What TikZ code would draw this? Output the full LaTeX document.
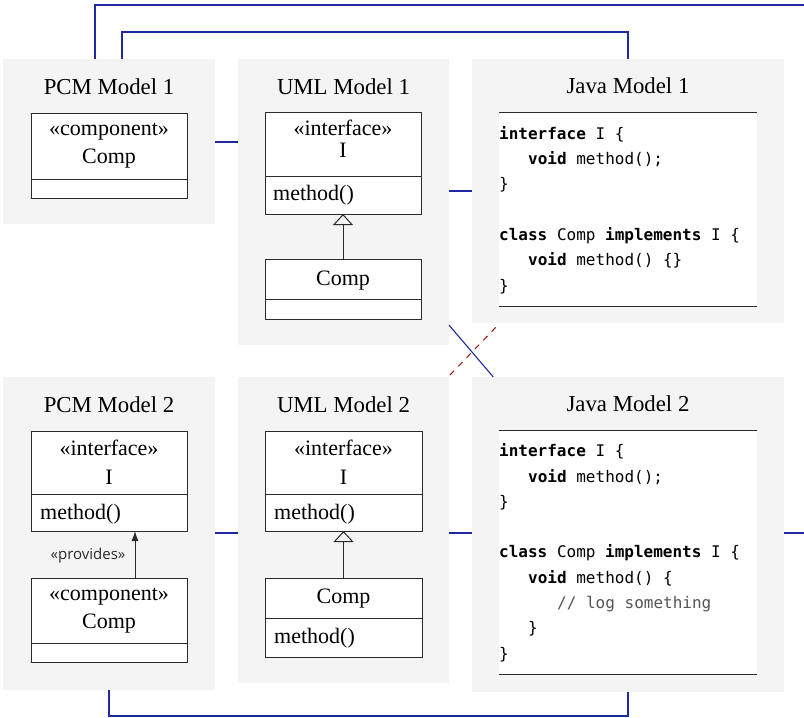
\documentclass[tikz,border=0pt]{standalone}
\usepackage{fontspec}
\setmainfont{Liberation Serif}
\newfontfamily\codefont{DejaVu Sans Mono}
\newfontfamily\labelfont{Open Sans}
\usetikzlibrary{arrows.meta,calc}
\definecolor{panelgray}{HTML}{F4F4F4}
\definecolor{linkblue}{RGB}{30,40,160}
\definecolor{linkred}{RGB}{165,30,30}
\definecolor{boxline}{HTML}{2A2A2A}
\definecolor{codegray}{HTML}{555555}
\begin{document}
\begin{tikzpicture}[x=1pt,y=-1pt,
  panel/.style={fill=panelgray,inner sep=0pt,outer sep=0pt},
  title/.style={font=\fontsize{22.8}{26}\selectfont,inner sep=0pt,anchor=base},
  cbox/.style={draw=boxline,fill=white,line width=1pt,inner sep=0pt,outer sep=0pt},
  ctext/.style={font=\fontsize{22}{26}\selectfont,inner sep=0pt,anchor=base},
  cleft/.style={font=\fontsize{22}{26}\selectfont,inner sep=0pt,anchor=base west},
  codebox/.style={fill=white,inner sep=0pt,outer sep=0pt},
  code/.style={font=\codefont\fontsize{16}{19}\selectfont,inner sep=0pt,anchor=base west},
  rule/.style={draw=boxline,line width=1pt},
  divider/.style={draw=boxline,line width=1pt},
  link/.style={color=linkblue,line width=1.1pt},
  trace/.style={color=linkred,line width=1.1pt,dash pattern=on 6pt off 6pt},
  genarrow/.style={draw=boxline,line width=1pt,-{Triangle[open,width=20pt,length=11pt]}},
  provarrow/.style={draw=boxline,line width=1pt,-{Latex[width=7pt,length=10pt]}},
  provlabel/.style={font=\labelfont\fontsize{15}{17}\selectfont,inner sep=0pt,anchor=base,text=boxline}
]
\useasboundingbox (0,0) rectangle (804,718);
\clip (0,0) rectangle (804,718);

% ---------- panels ----------
\node[panel,minimum width=212pt,minimum height=165pt] (pcm1) at (109,141.5) {};
\node[panel,minimum width=211pt,minimum height=286pt] (uml1) at (343.5,202) {};
\node[panel,minimum width=312pt,minimum height=264pt] (java1) at (628,191) {};
\node[panel,minimum width=212pt,minimum height=313pt] (pcm2) at (109,533.5) {};
\node[panel,minimum width=211pt,minimum height=306pt] (uml2) at (343.5,530) {};
\node[panel,minimum width=312pt,minimum height=315pt] (java2) at (628,534.5) {};

\node[title] (pcm1t) at (109,94) {PCM Model 1};
\node[title] (uml1t) at (343.5,94) {UML Model 1};
\node[title] (java1t) at (628,93) {Java Model 1};
\node[title] (pcm2t) at (109,412) {PCM Model 2};
\node[title] (uml2t) at (343.5,412) {UML Model 2};
\node[title] (java2t) at (628,411) {Java Model 2};

% ---------- PCM Model 1 ----------
\node[cbox,minimum width=156pt,minimum height=85pt] (p1comp) at (109,155.5) {};
\draw[divider] (p1comp.west |- 0,179) -- (p1comp.east |- 0,179);
\node[ctext] (p1st) at (109,135) {«component»};
\node[ctext] (p1nm) at (109,163) {Comp};

% ---------- UML Model 1 ----------
\node[cbox,minimum width=156pt,minimum height=102pt] (u1if) at (343,163) {};
\draw[divider] (u1if.west |- 0,176) -- (u1if.east |- 0,176);
\node[ctext] (u1st) at (343,135) {«interface»};
\node[ctext] (u1nm) at (343,157) {I};
\node[cleft] (u1m) at (273,200) {method()};
\node[cbox,minimum width=156pt,minimum height=60pt] (u1comp) at (343,289) {};
\draw[divider] (u1comp.west |- 0,299) -- (u1comp.east |- 0,299);
\node[ctext] (u1cn) at (343,285) {Comp};
\draw[genarrow] (u1comp.north) -- (u1if.south);

% ---------- Java Model 1 ----------
\node[codebox,minimum width=258pt,minimum height=194pt] (j1box) at (628,209) {};
\draw[rule] (j1box.north west) -- (j1box.north east);
\draw[rule] (j1box.south west) -- (j1box.south east);
\node[code] (j1a) at (499,139.3) {\textbf{interface} I \{};
\node[code] (j1b) at (528,164.6) {\textbf{void} method();};
\node[code] (j1c) at (499,189.9) {\}};
\node[code] (j1d) at (499,240.5) {\textbf{class} Comp \textbf{implements} I \{};
\node[code] (j1e) at (528,265.8) {\textbf{void} method() \{\}};
\node[code] (j1f) at (499,291.1) {\}};

% ---------- PCM Model 2 ----------
\node[cbox,minimum width=156pt,minimum height=100pt] (p2if) at (109,481) {};
\draw[divider] (p2if.west |- 0,494) -- (p2if.east |- 0,494);
\node[ctext] (p2st) at (109,455) {«interface»};
\node[ctext] (p2nm) at (109,484) {I};
\node[cleft] (p2m) at (40,519) {method()};
\node[cbox,minimum width=156pt,minimum height=84pt] (p2comp) at (109,620) {};
\draw[divider] (p2comp.west |- 0,643) -- (p2comp.east |- 0,643);
\node[ctext] (p2cs) at (109,600) {«component»};
\node[ctext] (p2cn) at (109,628) {Comp};
\draw[provarrow] ($(p2comp.north)+(26,0)$) -- ($(p2if.south)+(26,0)$);
\node[provlabel] (prov) at (88,559) {«provides»};

% ---------- UML Model 2 ----------
\node[cbox,minimum width=157pt,minimum height=100pt] (u2if) at (343.5,481) {};
\draw[divider] (u2if.west |- 0,494) -- (u2if.east |- 0,494);
\node[ctext] (u2st) at (343.5,455) {«interface»};
\node[ctext] (u2nm) at (343.5,484) {I};
\node[cleft] (u2m) at (274,519) {method()};
\node[cbox,minimum width=157pt,minimum height=79pt] (u2comp) at (343.5,617.5) {};
\draw[divider] (u2comp.west |- 0,618) -- (u2comp.east |- 0,618);
\node[ctext] (u2cn) at (343.5,603) {Comp};
\node[cleft] (u2cm) at (274,643) {method()};
\draw[genarrow] (u2comp.north) -- (u2if.south);

% ---------- Java Model 2 ----------
\node[codebox,minimum width=258pt,minimum height=244pt] (j2box) at (628,552) {};
\draw[rule] (j2box.north west) -- (j2box.north east);
\draw[rule] (j2box.south west) -- (j2box.south east);
\node[code] (j2a) at (499,456.7) {\textbf{interface} I \{};
\node[code] (j2b) at (528,482) {\textbf{void} method();};
\node[code] (j2c) at (499,507.3) {\}};
\node[code] (j2d) at (499,557.9) {\textbf{class} Comp \textbf{implements} I \{};
\node[code] (j2e) at (528,583.2) {\textbf{void} method() \{};
\node[code,text=codegray] (j2f) at (557,608.5) {// log something};
\node[code] (j2g) at (528,633.8) {\}};
\node[code] (j2h) at (499,659.1) {\}};

% ---------- correspondence links ----------
\coordinate (l1a) at ($(pcm1.east)+(0,0.5)$);
\coordinate (l1b) at ($(uml1.west)+(0,-60)$);
\coordinate (l2a) at ($(uml1.east)+(0,-11)$);
\coordinate (l2b) at (java1.west);
\coordinate (l3a) at ($(pcm2.east)+(0,-0.5)$);
\coordinate (l3b) at ($(uml2.west)+(0,3)$);
\coordinate (l4a) at ($(uml2.east)+(0,3)$);
\coordinate (l4b) at ($(java2.west)+(0,-1.5)$);
\coordinate (l5a) at ($(java2.east)+(0,-1.5)$);
\coordinate (outerup) at ($(pcm1.north)+(-14,0)$);
\coordinate (outerturn) at (830,5);
\draw[link] (l1a) -- (l1b);
\draw[link] (l2a) -- (l2b);
\draw[link] (l3a) -- (l3b);
\draw[link] (l4a) -- (l4b);
\draw[link] (outerup) |- (outerturn) |- (l5a);
\draw[link] ($(pcm1.north)+(13,0)$) -- ++(0,-27) -| (java1.north);
\draw[link] (pcm2.south) -- ++(0,26) -| (java2.south);
\draw[link] (uml1) -- (java2);
\coordinate (tr1) at ($(uml2.north east)+(1,-2)$);
\coordinate (tr2) at ($(java1.south west)+(27,1)$);
\draw[trace] (tr1) -- (tr2);
\end{tikzpicture}
\end{document}
